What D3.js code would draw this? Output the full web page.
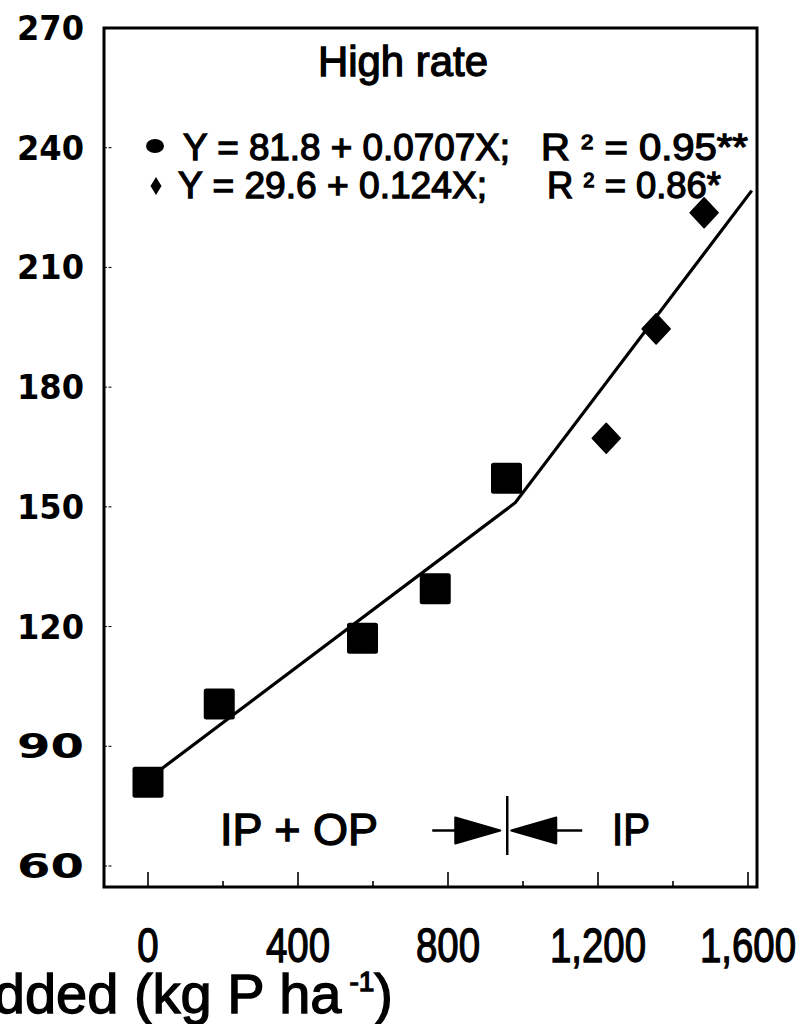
<!DOCTYPE html>
<html>
<head>
<meta charset="utf-8">
<script src="https://cdn.jsdelivr.net/npm/d3@7"></script>
<style>
  html, body { margin: 0; padding: 0; background: #fff; }
  svg { display: block; }
  text { font-family: "Liberation Sans", Arial, sans-serif; fill: #000; white-space: pre; }
  text.heavy { stroke: #000; stroke-width: 1.3px; }
</style>
</head>
<body>
<svg id="chart" width="810" height="1024"></svg>
<script>
// P added vs. response, high rate: IP + OP (squares) and IP only (diamonds)
const squareX = [0, 190, 572, 766, 956];
const squareY = [81.0, 100.6, 117.1, 129.5, 157.2];
const diamondX = [1222, 1355, 1483];
const diamondY = [167.2, 194.6, 223.7];

// fitted lines: Y = a + bX
const fit1 = { a: 81.8, b: 0.0707 };
const fit2 = { a: 29.6, b: 0.124 };
const fitEndX = 1610;
const boundaryX = 958;

const yTicks = [60, 90, 120, 150, 180, 210, 240, 270];
const xMajorTicks = [0, 400, 800, 1200, 1600];
const xMinorTicks = [200, 600, 1000, 1400];
const xTickLabels = ["0", "400", "800", "1,200", "1,600"];

const svg = d3.select("#chart");
const x = d3.scaleLinear().domain([0, 1600]).range([148, 748]);
const y = d3.scaleLinear().domain([60, 270]).range([866, 28]);

const frame = { left: 104, right: 757, top: 28, bottom: 887 };

// inner tick marks
const g = svg.append("g");
g.selectAll("line.ytick").data(yTicks).join("line")
  .attr("x1", frame.left).attr("x2", frame.left + 9)
  .attr("y1", d => y(d)).attr("y2", d => y(d))
  .attr("stroke", "#000").attr("stroke-width", 1).attr("stroke-dasharray", "3,1.5");
g.selectAll("line.xmaj").data(xMajorTicks.filter(d => x(d) < frame.right - 5)).join("line")
  .attr("x1", d => x(d)).attr("x2", d => x(d))
  .attr("y1", frame.bottom).attr("y2", frame.bottom - 15)
  .attr("stroke", "#000").attr("stroke-width", 1.6);
g.selectAll("line.xmin").data(xMinorTicks).join("line")
  .attr("x1", d => x(d)).attr("x2", d => x(d))
  .attr("y1", frame.bottom).attr("y2", frame.bottom - 6)
  .attr("stroke", "#000").attr("stroke-width", 1.6);

// frame
svg.append("rect")
  .attr("x", frame.left).attr("y", frame.top)
  .attr("width", frame.right - frame.left).attr("height", frame.bottom - frame.top)
  .attr("fill", "none").attr("stroke", "#000").attr("stroke-width", 3);

// y tick labels
svg.selectAll("text.ylab").data(yTicks).join("text")
  .attr("x", 84).attr("y", d => y(d) + 12)
  .attr("text-anchor", "end")
  .style("font-family", "'DejaVu Sans', sans-serif")
  .style("font-weight", "bold").style("font-size", "33px")
  .attr("textLength", 67).attr("lengthAdjust", "spacingAndGlyphs")
  .text(d => d);

// x tick labels (narrow, tall digits)
svg.selectAll("text.xlab").data(xMajorTicks).join("text")
  .attr("class", "heavy")
  .attr("x", d => x(d)).attr("y", 962)
  .attr("text-anchor", "middle")
  .style("font-size", "48px")
  .attr("transform", d => `translate(${x(d)},0) scale(0.8,1) translate(${-x(d)},0)`)
  .text((d, i) => xTickLabels[i]);

// x axis title (runs off the left edge)
const title = svg.append("text")
  .attr("class", "heavy")
  .attr("x", 393).attr("y", 1013)
  .attr("text-anchor", "end")
  .style("font-size", "56px");
title.append("tspan").text("P added (kg P ha");
title.append("tspan").attr("dx", 8).attr("dy", -22).style("font-size", "28px").text("-1");
title.append("tspan").attr("dy", 22).text(")");

// fitted broken line
const xBreak = (fit1.a - fit2.a) / (fit2.b - fit1.b);
const linePts = [
  [0, fit1.a],
  [xBreak, fit1.a + fit1.b * xBreak],
  [fitEndX, fit2.a + fit2.b * fitEndX]
];
svg.append("path")
  .attr("d", d3.line().x(d => x(d[0])).y(d => y(d[1]))(linePts))
  .attr("fill", "none").attr("stroke", "#000").attr("stroke-width", 3.2);

// squares
const sq = 31;
svg.selectAll("rect.sq").data(squareX.map((d, i) => [d, squareY[i]])).join("rect")
  .attr("x", d => x(d[0]) - sq / 2).attr("y", d => y(d[1]) - sq / 2)
  .attr("width", sq).attr("height", sq).attr("rx", 2.5)
  .attr("fill", "#000");

// diamonds
const dh = 15;
svg.selectAll("path.dm").data(diamondX.map((d, i) => [d, diamondY[i]])).join("path")
  .attr("d", d => {
    const cx = x(d[0]), cy = y(d[1]);
    return `M${cx},${cy - dh}L${cx + dh - 1},${cy}L${cx},${cy + dh}L${cx - dh + 1},${cy}Z`;
  })
  .attr("fill", "#000").attr("stroke", "#000").attr("stroke-width", 1.5).attr("stroke-linejoin", "round");

// title and legend
svg.append("text").attr("class", "heavy").attr("x", 403).attr("y", 76).attr("text-anchor", "middle")
  .style("font-size", "42px").attr("textLength", 170).attr("lengthAdjust", "spacingAndGlyphs")
  .text("High rate");

svg.append("ellipse").attr("cx", 155).attr("cy", 146).attr("rx", 9).attr("ry", 7).attr("fill", "#000");
svg.append("path")
  .attr("d", "M156,177L161.5,186L156,195L150.5,186Z")
  .attr("fill", "#000");

function legendLine(x0, yBase, eq, xr, r2, wEq, wR2) {
  svg.append("text").attr("class", "heavy").attr("x", x0).attr("y", yBase)
    .style("font-size", "36px")
    .attr("textLength", wEq).attr("lengthAdjust", "spacingAndGlyphs").text(eq);
  const t = svg.append("text").attr("class", "heavy").attr("x", xr).attr("y", yBase)
    .style("font-size", "36px");
  t.append("tspan").text("R ");
  t.append("tspan").attr("dy", -11).style("font-size", "20px").text("2");
  t.append("tspan").attr("dy", 11).text(" = " + r2);
  const w = t.node().getComputedTextLength();
  t.attr("transform", `translate(${xr},0) scale(${wR2 / w},1) translate(${-xr},0)`);
}
legendLine(183, 160, "Y = 81.8 + 0.0707X;", 541, "0.95**", 327, 207);
legendLine(178, 198, "Y = 29.6 + 0.124X;", 547, "0.86*", 309, 174);

// region labels and boundary arrows
svg.append("text").attr("class", "heavy").attr("x", 220).attr("y", 845).style("font-size", "44px")
  .attr("textLength", 158).attr("lengthAdjust", "spacingAndGlyphs").text("IP + OP");
svg.append("text").attr("class", "heavy").attr("x", 612).attr("y", 845).style("font-size", "44px")
  .attr("textLength", 38).attr("lengthAdjust", "spacingAndGlyphs").text("IP");

const bx = x(boundaryX), by = 830.5;
svg.append("line").attr("x1", bx).attr("x2", bx).attr("y1", 796).attr("y2", 855)
  .attr("stroke", "#000").attr("stroke-width", 2.5);
svg.append("line").attr("x1", bx - 75).attr("x2", bx - 30).attr("y1", by).attr("y2", by)
  .attr("stroke", "#000").attr("stroke-width", 2.5);
svg.append("path")
  .attr("d", `M${bx - 52},${by - 13}L${bx - 7},${by}L${bx - 52},${by + 13}Z`)
  .attr("fill", "#000").attr("stroke", "#000").attr("stroke-linejoin", "round").attr("stroke-width", 2);
svg.append("line").attr("x1", bx + 30).attr("x2", bx + 75).attr("y1", by).attr("y2", by)
  .attr("stroke", "#000").attr("stroke-width", 2.5);
svg.append("path")
  .attr("d", `M${bx + 49},${by - 13}L${bx + 4},${by}L${bx + 49},${by + 13}Z`)
  .attr("fill", "#000").attr("stroke", "#000").attr("stroke-linejoin", "round").attr("stroke-width", 2);
</script>
</body>
</html>
